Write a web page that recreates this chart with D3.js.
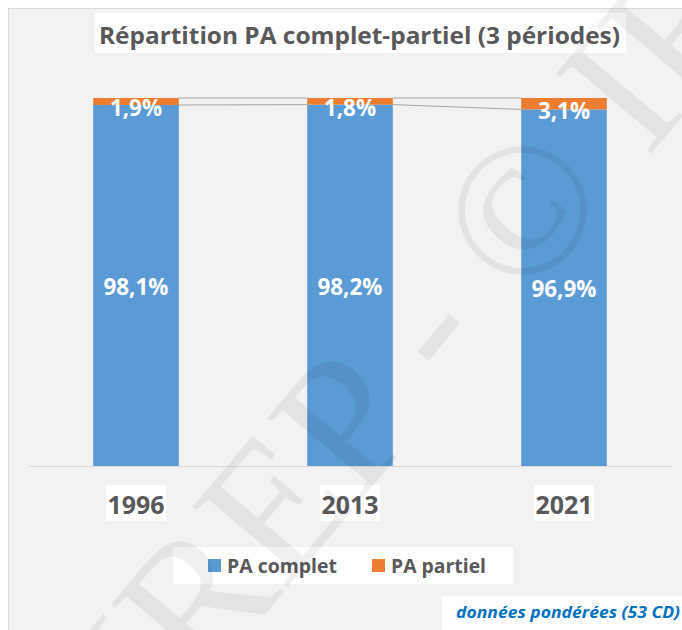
<!DOCTYPE html>
<html>
<head>
<meta charset="utf-8">
<script src="https://cdn.jsdelivr.net/npm/d3@7"></script>
<style>
  body { margin: 0; background: #fff; }
  svg { display: block; }
</style>
</head>
<body>
<svg id="chart"></svg>
<script>
// data
const years = ["1996", "2013", "2021"];
const paComplet = [98.1, 98.2, 96.9];
const paPartiel = [1.9, 1.8, 3.1];
const seriesNames = ["PA complet", "PA partiel"];
const seriesColors = ["#5b9bd5", "#ed7d31"];
const titleText = "Répartition PA complet-partiel (3 périodes)";
const noteText = "données pondérées (53 CD)";
const watermarkText = ["IREP - ", "©", " IREP"];

const W = 682, H = 630;
const font = "'Open Sans', 'DejaVu Sans', sans-serif";

const svg = d3.select("#chart").attr("width", W).attr("height", H);

// chart area background
svg.append("rect")
    .attr("x", 8.5).attr("y", 8.5)
    .attr("width", W).attr("height", H)
    .attr("fill", "#f2f2f2")
    .attr("stroke", "#d9d9d9");

const rows = years.map((y, i) => ({ year: y, complet: paComplet[i], partiel: paPartiel[i] }));
const stacked = d3.stack().keys(["complet", "partiel"])(rows);

const x = d3.scaleBand().domain(years).range([29, 671]).paddingInner(0.6).paddingOuter(0.3);
const y = d3.scaleLinear().domain([0, 100]).range([466, 98]);
const fmt = d3.formatLocale({ decimal: ",", thousands: " ", grouping: [3], currency: ["", "€"] }).format(".1f");

// baseline
svg.append("line")
    .attr("x1", 29).attr("x2", 672)
    .attr("y1", y(0) + 0.5).attr("y2", y(0) + 0.5)
    .attr("stroke", "#d9d9d9").attr("stroke-width", 1);

// series lines between bars
stacked.forEach(s => {
    for (let j = 0; j < years.length - 1; j++) {
        svg.append("line")
            .attr("x1", x(years[j]) + x.bandwidth()).attr("y1", y(s[j][1]))
            .attr("x2", x(years[j + 1])).attr("y2", y(s[j + 1][1]))
            .attr("stroke", "#a5a5a5").attr("stroke-width", 1);
    }
});

// bars
const layers = svg.selectAll(".layer")
    .data(stacked)
    .join("g")
    .attr("class", "layer")
    .attr("fill", (d, i) => seriesColors[i]);

layers.selectAll("rect")
    .data(d => d)
    .join("rect")
    .attr("x", d => x(d.data.year))
    .attr("y", d => y(d[1]))
    .attr("width", x.bandwidth())
    .attr("height", d => y(d[0]) - y(d[1]));

// data labels (thin top segment: label pushed a little down like Excel does)
layers.selectAll("text")
    .data(d => d.map(v => ({ v, key: d.key })))
    .join("text")
    .attr("x", d => x(d.v.data.year) + x.bandwidth() / 2)
    .attr("y", d => {
        const mid = (y(d.v[0]) + y(d.v[1])) / 2;
        return (d.key === "partiel" ? mid + 6.3 : mid + 1) + 8.6;
    })
    .attr("text-anchor", "middle")
    .attr("fill", "#fff")
    .style("font-family", font)
    .style("font-weight", 700)
    .style("font-size", "24px")
    .attr("textLength", d => d.key === "partiel" ? 52 : 65)
    .attr("lengthAdjust", "spacingAndGlyphs")
    .text(d => fmt(d.v.data[d.key]) + "%");

// year labels on white boxes
const yearG = svg.selectAll(".year")
    .data(years)
    .join("g")
    .attr("class", "year");
yearG.append("rect")
    .attr("x", d => x(d) + x.bandwidth() / 2 - 30)
    .attr("y", 485)
    .attr("width", 60).attr("height", 36)
    .attr("fill", "#fff");
yearG.append("text")
    .attr("x", d => x(d) + x.bandwidth() / 2)
    .attr("y", 514)
    .attr("text-anchor", "middle")
    .attr("fill", "#595959")
    .style("font-family", font)
    .style("font-weight", 700)
    .style("font-size", "25px")
    .attr("textLength", 57)
    .attr("lengthAdjust", "spacingAndGlyphs")
    .text(d => d);

// title
svg.append("rect")
    .attr("x", 95).attr("y", 13).attr("width", 531).attr("height", 40)
    .attr("fill", "#fff");
svg.append("text")
    .attr("x", 99).attr("y", 44)
    .attr("fill", "#595959")
    .style("font-family", font)
    .style("font-weight", 700)
    .style("font-size", "24px")
    .attr("textLength", 521)
    .attr("lengthAdjust", "spacingAndGlyphs")
    .text(titleText);

// legend
svg.append("rect")
    .attr("x", 173).attr("y", 547).attr("width", 340).attr("height", 37)
    .attr("fill", "#fff");
const legendX = [208, 372];
const legendW = [110, 95];
const legend = svg.selectAll(".legend")
    .data(seriesNames)
    .join("g")
    .attr("class", "legend")
    .attr("transform", (d, i) => `translate(${legendX[i]},559)`);
legend.append("rect")
    .attr("width", 13).attr("height", 13)
    .attr("fill", (d, i) => seriesColors[i]);
legend.append("text")
    .attr("x", 19).attr("y", 13.5)
    .attr("fill", "#595959")
    .style("font-family", font)
    .style("font-weight", 700)
    .style("font-size", "19px")
    .attr("textLength", (d, i) => legendW[i])
    .attr("lengthAdjust", "spacingAndGlyphs")
    .text(d => d);

// note
svg.append("rect")
    .attr("x", 442).attr("y", 596).attr("width", 240).attr("height", 34)
    .attr("fill", "#fff");
svg.append("text")
    .attr("x", 456).attr("y", 618)
    .attr("fill", "#0070c0")
    .style("font-family", font)
    .style("font-weight", 700)
    .style("font-style", "italic")
    .style("font-size", "16px")
    .attr("textLength", 224)
    .attr("lengthAdjust", "spacingAndGlyphs")
    .text(noteText);

// watermark
const wm = svg.append("g")
    .attr("transform", "translate(522,210) rotate(-50)")
    .attr("fill", "#000")
    .attr("fill-opacity", 0.06)
    .style("font-family", "'Liberation Serif', 'DejaVu Serif', serif")
    .style("font-size", "190px");
wm.append("text").attr("x", -72).attr("y", 63).attr("text-anchor", "end")
    .attr("xml:space", "preserve").style("white-space", "pre").text(watermarkText[0]);
wm.append("text").attr("x", 0).attr("y", 63).attr("text-anchor", "middle").text(watermarkText[1]);
wm.append("text").attr("x", 72).attr("y", 63).attr("text-anchor", "start")
    .style("white-space", "pre").text(watermarkText[2]);
</script>
</body>
</html>
